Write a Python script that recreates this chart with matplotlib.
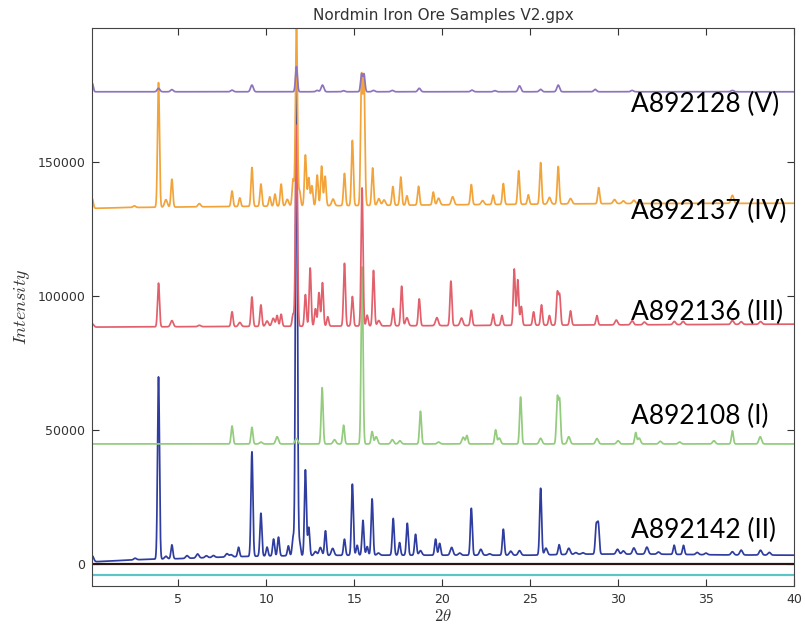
import numpy as np
import matplotlib
matplotlib.use("Agg")
import matplotlib.pyplot as plt

# peak lists: 2-theta position, height above background
# A892142 (II) - blue
pos_II = [0.12, 2.55, 3.88, 4.3, 4.64, 5.5, 6.1, 6.6, 7.0, 7.77, 8.0, 8.43, 9.19, 9.7,
          10.05, 10.42, 10.7, 11.26, 11.53, 11.72, 11.9, 12.23, 12.42, 12.8, 13.08, 13.37,
          13.78, 14.45, 14.9, 15.17, 15.5, 15.74, 16.02, 16.38, 17.22, 17.58, 18.02, 18.49,
          18.77, 19.63, 19.86, 20.54, 21.0, 21.66, 22.2, 22.7, 23.48, 23.9, 24.4, 25.6,
          25.9, 26.65, 27.2, 27.6, 28.0, 28.76, 28.88, 29.97, 30.3, 30.9, 31.64, 32.3,
          33.19, 33.72, 34.5, 35.0, 36.5, 37.0, 38.1, 38.6]
hgt_II = [2200, 600, 68000, 1000, 5200, 1000, 1500, 700, 700, 1200, 800, 3500, 39000, 16000,
          3300, 6300, 7000, 3700, 6900, 183000, 5000, 32000, 10500, 1500, 3000, 9200,
          2600, 6000, 26500, 3700, 13000, 3200, 21000, 800, 13700, 4700, 11900, 7800,
          1700, 6000, 4400, 2900, 800, 17500, 2200, 500, 9700, 1500, 1700, 24900,
          2500, 3700, 2300, 600, 500, 10500, 11000, 1800, 1200, 2300, 2600, 800,
          3400, 3400, 800, 600, 1200, 1800, 1800, 1000]
bg_x_II = [0.1, 1, 3, 5, 8, 10, 15, 20, 25, 28, 32, 36, 40]
bg_y_II = [800, 1100, 1700, 2000, 2700, 3000, 3300, 3300, 3300, 3700, 3700, 3400, 3300]

# A892108 (I) - green
pos_I = [8.06, 9.19, 9.7, 10.62, 11.72, 13.18, 13.88, 14.4, 15.45, 16.02, 16.25, 17.17,
         17.6, 18.77, 19.8, 21.2, 21.41, 23.04, 23.25, 24.46, 25.6, 26.55, 26.68, 27.2,
         28.8, 30.0, 31.0, 31.2, 32.4, 33.5, 35.45, 36.5, 38.08]
hgt_I = [6700, 6200, 700, 2700, 2000, 21000, 1600, 7000, 66000, 4600, 2700, 1600,
         1200, 12200, 700, 2500, 3100, 5200, 2200, 17500, 2100, 17000, 16000, 2700,
         2000, 1200, 4200, 2200, 1000, 700, 1200, 4900, 2700]
bg_x_I = [0.1, 40]
bg_y_I = [44800, 44800]

# A892136 (III) - red
pos_III = [0.12, 3.88, 4.64, 6.2, 8.06, 8.5, 9.19, 9.7, 10.05, 10.4, 10.62, 10.85, 11.53,
           11.72, 12.23, 12.5, 12.8, 13.0, 13.2, 13.5, 14.45, 14.9, 15.45, 15.74, 16.1,
           16.4, 17.22, 17.7, 18.0, 18.7, 19.7, 20.5, 21.1, 21.66, 22.9, 23.4, 24.1, 24.3,
           24.5, 25.2, 25.65, 26.1, 26.55, 26.68, 27.3, 28.8, 29.9, 30.8, 31.5, 33.2, 33.7,
           36.5, 37.0, 38.1]
hgt_III = [1200, 16300, 2300, 500, 5500, 1500, 11000, 8000, 2000, 3000, 4000, 4500, 4500,
           75000, 11800, 21700, 6500, 12500, 16200, 3500, 23400, 11000, 51500, 4000, 20700,
           2000, 6500, 14800, 3000, 10000, 3000, 16600, 2800, 5700, 4200, 3700, 21000, 17000,
           7000, 5000, 7600, 3600, 12000, 11000, 5300, 3500, 1800, 1500, 1000, 1200, 1200,
           1500, 1000, 1000]
bg_x_III = [0.1, 40]
bg_y_III = [88400, 89500]

# A892137 (IV) - orange
pos_IV = [0.12, 2.5, 3.88, 4.3, 4.64, 6.2, 8.06, 8.5, 9.19, 9.7, 10.2, 10.5, 10.85, 11.2,
          11.53, 11.72, 11.9, 12.23, 12.42, 12.6, 12.9, 13.15, 13.35, 13.8, 14.45, 14.9,
          15.42, 15.56, 16.05, 16.4, 16.7, 17.2, 17.65, 18.0, 18.66, 19.5, 19.8, 20.6,
          21.66, 22.3, 22.9, 23.48, 24.35, 24.9, 25.6, 26.1, 26.6, 27.3, 28.9, 29.8, 30.3,
          30.9, 36.5]
hgt_IV = [3500, 600, 46500, 2800, 10400, 1200, 5800, 3200, 14500, 8300, 3500, 4500, 8200, 2500,
          10000, 70000, 5500, 19000, 10500, 7500, 11500, 14800, 11000, 2500, 12000, 24300,
          47500, 46000, 14000, 2500, 2000, 7000, 10500, 3500, 7000, 4800, 2500, 3000,
          7500, 1500, 3500, 7800, 12500, 3500, 15500, 2500, 14000, 2000, 6000, 1500, 1000,
          1200, 3000]
bg_x_IV = [0.1, 2, 5, 10, 20, 30, 40]
bg_y_IV = [132700, 133000, 133200, 133500, 134000, 134500, 134600]

# A892128 (V) - purple
pos_V = [0.12, 3.88, 4.64, 8.06, 9.19, 11.72, 12.9, 13.2, 14.4, 15.42, 15.56, 16.1, 17.17,
         18.7, 21.7, 23.0, 24.4, 25.6, 26.6, 28.7, 30.8, 36.5]
hgt_V = [3100, 1300, 800, 600, 2500, 9400, 500, 2500, 400, 6500, 6500, 500, 500,
         1300, 600, 400, 2200, 900, 2500, 900, 500, 500]
bg_x_V = [0.1, 40]
bg_y_V = [176200, 176200]

names = ["A892142 (II)", "A892108 (I)", "A892136 (III)", "A892137 (IV)", "A892128 (V)"]
zero_level = 0
cyan_level = -4100

plt.rcParams['mathtext.fontset'] = 'cm'

def profile(x, pos, hgt, bgx, bgy, sig=0.055):
    y = np.interp(x, bgx, bgy)
    for p, h in zip(pos, hgt):
        s = sig if h > 3000 else sig * 1.4
        y = y + h * np.exp(-0.5 * ((x - p) / s) ** 2)
    return y

x = np.linspace(0.1, 40, 12000)

fig = plt.figure(figsize=(8.05, 6.26), dpi=100)
ax = fig.add_axes([0.1143, 0.0639, 0.872, 0.8914])

ax.axhline(zero_level, color='#2a1414', lw=1.6)
ax.axhline(cyan_level, color='#5cc6c6', lw=1.6)

series = [(pos_II, hgt_II, bg_x_II, bg_y_II, '#2f3da0'),
          (pos_I, hgt_I, bg_x_I, bg_y_I, '#92cc7c'),
          (pos_III, hgt_III, bg_x_III, bg_y_III, '#e2606c'),
          (pos_IV, hgt_IV, bg_x_IV, bg_y_IV, '#f2a43a'),
          (pos_V, hgt_V, bg_x_V, bg_y_V, '#8d74bb')]
for pos, hgt, bgx, bgy, c in series:
    ax.plot(x, profile(x, pos, hgt, bgx, bgy), color=c, lw=1.25)

ax.set_xlim(0.1, 40)
ax.set_ylim(-8200, 200000)
ax.set_xticks([5, 10, 15, 20, 25, 30, 35, 40])
ax.set_yticks([0, 50000, 100000, 150000])
ax.tick_params(direction='in', top=True, right=True, length=5, labelsize=9,
               colors='#333333', pad=5)
for sp in ax.spines.values():
    sp.set_color('#444444')

ax.set_title("Nordmin Iron Ore Samples V2.gpx", fontsize=11, color='#333333')
ax.set_xlabel(r"$2\theta$", fontsize=12, color='#333333', labelpad=1)
ax.set_ylabel(r"$Intensity$", fontsize=13, color='#333333')

# sample labels
label_y = [12700, 54900, 94000, 131700, 171600]
for name, ly in zip(names, label_y):
    ax.text(30.75, ly, name, fontsize=19, family='Lato', ha='left', va='center', color='black')

fig.savefig("out.png", dpi=100)
